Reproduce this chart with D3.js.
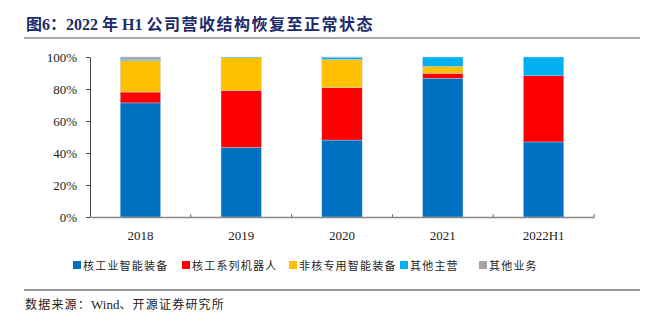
<!DOCTYPE html>
<html>
<head>
<meta charset="utf-8">
<script src="https://cdn.jsdelivr.net/npm/d3@7"></script>
<style>
  body { margin: 0; background: #fff; }
  svg { display: block; }
</style>
</head>
<body>
<div id="chart"></div>
<script>
// Data (share of revenue, %)
const years = ["2018", "2019", "2020", "2021", "2022H1"];
const seriesNames = ["核工业智能装备", "核工系列机器人", "非核专用智能装备", "其他主营", "其他业务"];
const nuclearEquip = [71.3, 43.5, 48.1, 86.7, 46.9];
const nuclearRobot = [6.8, 35.5, 32.7, 3.1, 41.4];
const nonNuclear = [19.6, 20.7, 17.7, 4.4, 0.0];
const otherMain = [0.5, 0.3, 1.4, 5.8, 11.7];
const otherBiz = [1.8, 0.0, 0.1, 0.0, 0.0];
const yTicks = [0, 20, 40, 60, 80, 100];

const COLORS = ["#0070c0", "#ff0000", "#ffc000", "#00b0f0", "#a5a5a5"];
const FONT = "'Liberation Serif', 'Noto Sans CJK SC', serif";
const CJK = "'Noto Sans CJK SC', 'Liberation Serif', sans-serif";

const W = 650, H = 323;
const plot = {left: 90, right: 594, top: 57, bottom: 217};

const svg = d3.select("#chart").append("svg")
  .attr("width", W)
  .attr("height", H);

// Title
const title = svg.append("text")
  .attr("x", 26)
  .attr("y", 30)
  .attr("fill", "#1b2a6b")
  .attr("font-weight", "bold")
  .attr("font-size", 16);
title.append("tspan").attr("font-family", CJK).text("图");
title.append("tspan").attr("font-family", FONT).text("6");
title.append("tspan").attr("font-family", CJK).text("：");
title.append("tspan").attr("font-family", FONT).text("2022 ");
title.append("tspan").attr("font-family", CJK).text("年");
title.append("tspan").attr("font-family", FONT).text(" H1 ");
title.append("tspan").attr("font-family", CJK).attr("letter-spacing", 1.5).text("公司营收结构恢复至正常状态");

svg.append("line")
  .attr("x1", 24).attr("x2", 640)
  .attr("y1", 38).attr("y2", 38)
  .attr("stroke", "#555").attr("stroke-width", 1.2);

// Build stacked table
const table = years.map((y, i) => ({
  year: y,
  s0: nuclearEquip[i], s1: nuclearRobot[i], s2: nonNuclear[i], s3: otherMain[i], s4: otherBiz[i]
}));
const keys = ["s0", "s1", "s2", "s3", "s4"];
const stacked = d3.stack().keys(keys).offset(d3.stackOffsetExpand)(table);

const x = d3.scaleBand()
  .domain(years)
  .range([plot.left, plot.right])
  .paddingInner(0.6)
  .paddingOuter(0.3);

const y = d3.scaleLinear()
  .domain([0, 1])
  .range([plot.bottom, plot.top]);

// Bars
svg.append("g")
  .selectAll("g")
  .data(stacked)
  .join("g")
  .attr("fill", (d, i) => COLORS[i])
  .selectAll("rect")
  .data(d => d)
  .join("rect")
  .attr("x", d => x(d.data.year))
  .attr("y", d => y(d[1]))
  .attr("width", x.bandwidth())
  .attr("height", d => Math.max(0, y(d[0]) - y(d[1])))
  .attr("stroke", "#b9d3ec")
  .attr("stroke-width", 0.4);

// Y axis
const yAxis = svg.append("g")
  .attr("transform", `translate(${plot.left},0)`)
  .call(d3.axisLeft(y)
    .tickValues(yTicks.map(v => v / 100))
    .tickFormat(d => Math.round(d * 100) + "%")
    .tickSize(4)
    .tickSizeOuter(0));
yAxis.select(".domain").attr("stroke", "#444");
yAxis.selectAll(".tick line").attr("stroke", "#444");
yAxis.selectAll(".tick text")
  .attr("font-family", FONT)
  .attr("font-size", 13)
  .attr("fill", "#222")
  .attr("x", -13);

// X axis
const xAxis = svg.append("g")
  .attr("transform", `translate(0,${plot.bottom})`)
  .call(d3.axisBottom(x).tickSize(0).tickSizeOuter(0));
xAxis.select(".domain").attr("stroke", "#888").attr("stroke-width", 1.5);
xAxis.selectAll(".tick text")
  .attr("font-family", FONT)
  .attr("font-size", 13)
  .attr("fill", "#222")
  .attr("dy", "1.5em");

// category boundary ticks
const step = x.step();
svg.append("g")
  .selectAll("line")
  .data(years)
  .join("line")
  .attr("x1", d => x(d) + x.bandwidth() / 2 + step / 2)
  .attr("x2", d => x(d) + x.bandwidth() / 2 + step / 2)
  .attr("y1", plot.bottom)
  .attr("y2", plot.bottom - 3)
  .attr("stroke", "#666");

// Legend
const legendX = [73, 182, 289, 400, 479];
const legend = svg.append("g")
  .selectAll("g")
  .data(seriesNames)
  .join("g")
  .attr("transform", (d, i) => `translate(${legendX[i]},265)`);
legend.append("rect")
  .attr("x", 0).attr("y", -4)
  .attr("width", 8).attr("height", 8)
  .attr("fill", (d, i) => COLORS[i]);
legend.append("text")
  .attr("x", 10)
  .attr("y", 4.5)
  .attr("font-family", CJK)
  .attr("font-size", 11)
  .attr("letter-spacing", 1.2)
  .attr("fill", "#222")
  .text(d => d);

// Source
svg.append("line")
  .attr("x1", 24).attr("x2", 640)
  .attr("y1", 290).attr("y2", 290)
  .attr("stroke", "#333").attr("stroke-width", 1);

const src = svg.append("text")
  .attr("x", 25)
  .attr("y", 309)
  .attr("font-size", 12)
  .attr("fill", "#222");
src.append("tspan").attr("font-family", CJK).attr("letter-spacing", 1.2).text("数据来源：");
src.append("tspan").attr("font-family", FONT).attr("font-size", 13).text("Wind");
src.append("tspan").attr("font-family", CJK).attr("letter-spacing", 1.2).text("、开源证券研究所");
</script>
</body>
</html>
